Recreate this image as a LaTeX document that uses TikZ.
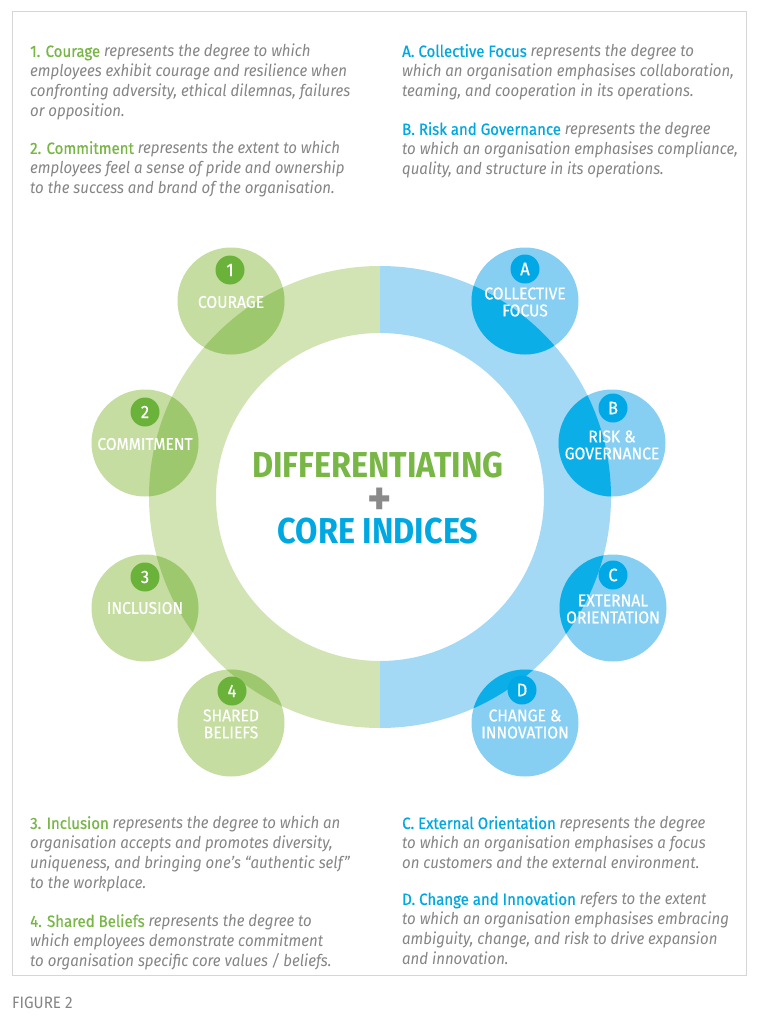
\documentclass[tikz,border=0pt]{standalone}
\usepackage{fontspec}
\setmainfont{Fira Sans}[FakeStretch=0.92]
\newfontfamily\headfont{Fira Sans}[FakeStretch=0.9]
\newfontfamily\labfont{Fira Sans}[FakeStretch=0.92, FakeBold=0.6]
\definecolor{txtgray}{HTML}{858585}
\definecolor{plusgray}{HTML}{8A8A8A}
\definecolor{labgreen}{HTML}{78B646}
\definecolor{labblue}{HTML}{00A8E1}
\definecolor{ringG}{HTML}{D2E4B4}
\definecolor{circG}{HTML}{C5DDA0}
\definecolor{overG}{HTML}{9DC86E}
\definecolor{badgeG}{HTML}{6AB23A}
\definecolor{ringB}{HTML}{A3D9F5}
\definecolor{circB}{HTML}{86CFF3}
\definecolor{overB}{HTML}{0CAEE8}
\definecolor{badgeB}{HTML}{00A9E6}
\definecolor{frame}{HTML}{D6D6D6}
\tikzset{
  body/.style={anchor=north west, inner sep=0pt, align=left, text=txtgray,
    font=\fontsize{16.3}{20}\selectfont\itshape},
  clabel/.style={text=white, align=center, inner sep=0pt,
    font=\labfont\fontsize{17}{17}\selectfont},
  badge/.style={circle, minimum size=29pt, inner sep=0pt, text=white,
    font=\labfont\fontsize{18}{18}\selectfont},
}
\newcommand{\gl}[1]{{\labfont\upshape\color{labgreen}#1}}
\newcommand{\bl}[1]{{\labfont\upshape\color{labblue}#1}}
\begin{document}
\begin{tikzpicture}[x=1pt,y=-1pt]
\useasboundingbox (0,0) rectangle (766,1024);
\fill[white] (0,0) rectangle (766,1024);
\draw[frame, line width=1pt] (12,12) rectangle (746,975);

% ring halves
\begin{scope}
  \clip (0,200) rectangle (380,800);
  \fill[ringG, even odd rule] (380,497) circle (231) (380,497) circle (164);
\end{scope}
\begin{scope}
  \clip (380,200) rectangle (766,800);
  \fill[ringB, even odd rule] (380,497) circle (231) (380,497) circle (164);
\end{scope}

% green circles
\foreach \n/\x/\y in {c1/231/301, c2/145/443, c3/145/608, c4/231/723}{
  \fill[circG] (\x,\y) circle (53.5);
  \begin{scope}
    \clip (\x,\y) circle (53.5);
    \clip (0,200) rectangle (380,800);
    \fill[overG, even odd rule] (380,497) circle (231) (380,497) circle (164);
  \end{scope}
}
% blue circles
\foreach \n/\x/\y in {cA/525/301, cB/612/443, cC/613/608, cD/525/723}{
  \fill[circB] (\x,\y) circle (53.5);
  \begin{scope}
    \clip (\x,\y) circle (53.5);
    \clip (380,200) rectangle (766,800);
    \fill[overB, even odd rule] (380,497) circle (231) (380,497) circle (164);
  \end{scope}
}

% badges
\node[badge, fill=badgeG] (b1) at (230,270) {1};
\node[badge, fill=badgeG] (b2) at (145,412) {2};
\node[badge, fill=badgeG] (b3) at (145,577) {3};
\node[badge, fill=badgeG] (b4) at (232,691) {4};
\node[badge, fill=badgeB] (bA) at (525,269) {A};
\node[badge, fill=badgeB] (bB) at (613,408) {B};
\node[badge, fill=badgeB] (bC) at (613,575) {C};
\node[badge, fill=badgeB] (bD) at (522,690) {D};

% circle labels
\node[clabel] (l1) at (231,302) {COURAGE};
\node[clabel] (l2) at (145,444) {COMMITMENT};
\node[clabel] (l3) at (145,608) {INCLUSION};
\node[clabel] (l4) at (231,724) {SHARED\\BELIEFS};
\node[clabel] (lA) at (525,302) {COLLECTIVE\\FOCUS};
\node[clabel] (lB) at (612,445) {RISK \&\\GOVERNANCE};
\node[clabel] (lC) at (613,609) {EXTERNAL\\ORIENTATION};
\node[clabel] (lD) at (525,724) {CHANGE \&\\INNOVATION};

% centre title
\node[text=labgreen, font=\headfont\fontsize{36}{36}\selectfont\bfseries, inner sep=0pt, text height=26pt, text depth=0pt, anchor=south] (t1) at (378,478) {DIFFERENTIATING};
\node[text=plusgray, font=\fontsize{50}{50}\selectfont\bfseries, inner sep=0pt, text height=6pt, text depth=0pt, anchor=base] (tp) at (380,515) {+};
\node[text=labblue, font=\headfont\fontsize{36}{36}\selectfont\bfseries, inner sep=0pt, text height=25pt, text depth=0pt, anchor=south] (t2) at (378,544) {CORE INDICES};

% descriptions
\node[body] (d1) at (30,44) {\gl{1. Courage} represents the degree to which\\
employees exhibit courage and resilience when\\
confronting adversity, ethical dilemnas, failures\\
or opposition.};
\node[body] (d2) at (30,141) {\gl{2. Commitment} represents the extent to which\\
employees feel a sense of pride and ownership\\
to the success and brand of the organisation.};
\node[body] (dA) at (402,44) {\bl{A. Collective Focus} represents the degree to\\
which an organisation emphasises collaboration,\\
teaming, and cooperation in its operations.};
\node[body] (dB) at (402,122) {\bl{B. Risk and Governance} represents the degree\\
to which an organisation emphasises compliance,\\
quality, and structure in its operations.};
\node[body] (d3) at (30,816) {\gl{3. Inclusion} represents the degree to which an\\
organisation accepts and promotes diversity,\\
uniqueness, and bringing one's ``authentic self''\\
to the workplace.};
\node[body] (d4) at (30,914) {\gl{4. Shared Beliefs} represents the degree to\\
which employees demonstrate commitment\\
to organisation specific core values / beliefs.};
\node[body] (dC) at (402,816) {\bl{C. External Orientation} represents the degree\\
to which an organisation emphasises a focus\\
on customers and the external environment.};
\node[body] (dD) at (402,892) {\bl{D. Change and Innovation} refers to the extent\\
to which an organisation emphasises embracing\\
ambiguity, change, and risk to drive expansion\\
and innovation.};

\node[anchor=west, inner sep=0pt, text=txtgray, font=\fontsize{16.5}{16.5}\selectfont] (fig) at (12,1003) {FIGURE 2};
\end{tikzpicture}
\end{document}
